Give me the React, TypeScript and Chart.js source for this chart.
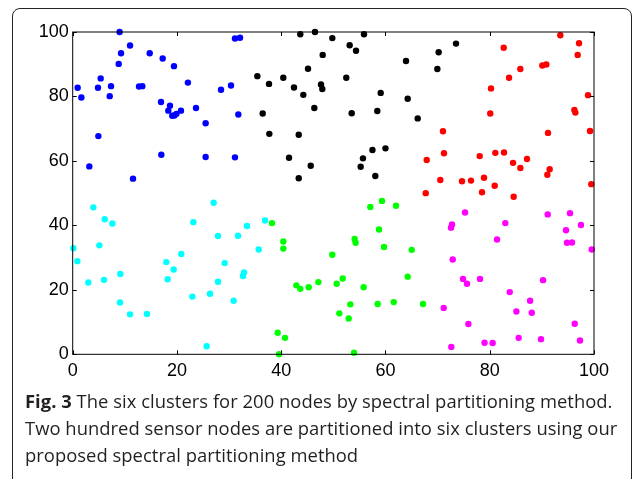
import React, { useEffect, useRef } from "react";
import { Chart, registerables } from "chart.js";

Chart.register(...registerables);

const xTicks = [0, 20, 40, 60, 80, 100];
const yTicks = [0, 20, 40, 60, 80, 100];

const blueX = [0.95,1.66,4.85,5.37,4.92,3.19,7.35,7.1,9.0,9.27,8.82,11.0,11.57,12.72,13.36,14.77,17.26,19.43,16.94,18.66,18.34,19.1,19.5,19.9,20.77,22.1,23.65,25.5,17.0,25.5,28.45,30.37,31.13,32.1,31.77,31.13];
const blueY = [82.7,79.7,82.7,85.6,67.7,58.3,83.2,80.1,100,93.4,90.1,95.8,54.5,83.1,83.2,93.4,91.8,89.4,78.3,77.1,75.6,74.0,74.1,74.6,75.6,84.3,76.4,71.7,61.9,61.2,82.1,83.4,98.0,98.2,74.4,61.1];

const blackX = [35.42,37.66,36.45,37.72,40.4,42.45,43.66,46.48,44.24,45.14,47.96,47.63,47.88,46.35,49.8,53.13,54.35,52.48,55.88,53.52,59.08,58.43,63.94,64.26,43.36,41.5,45.66,43.36,57.5,60.0,55.68,55.24,58.05,70.2,69.95,73.53,66.18];
const blackY = [86.3,83.9,74.7,68.4,85.8,82.8,99.3,100,80.5,88.6,92.9,83.7,82.3,76.4,98.1,95.9,94.2,85.8,99.3,74.8,81.1,75.5,91.0,79.3,68.1,61.0,58.5,54.6,63.4,63.9,60.8,58.2,55.3,93.7,88.5,96.4,73.2];

const redX = [82.68,93.54,97.13,96.87,85.87,83.7,90.09,90.85,80.24,80.1,98.86,96.24,96.43,71.03,91.18,99.24,67.91,71.22,78.07,81.07,82.74,84.47,87.15,85.87,91.5,91.05,70.52,74.68,76.41,78.9,80.95,99.48,67.72,78.52,84.59];
const redY = [95.1,99.0,96.5,92.9,88.5,85.8,89.6,89.9,82.5,74.7,80.4,75.8,75.0,69.2,68.7,69.3,60.3,62.4,61.5,62.5,62.6,59.4,60.6,57.8,57.4,55.7,54.1,53.7,53.9,54.8,52.3,52.8,50.0,50.3,48.9];

const magentaX = [75.26,72.76,72.57,82.99,81.4,91.12,95.4,97.5,94.63,94.82,95.78,99.56,72.9,74.87,75.64,78.13,90.22,83.84,87.74,85.11,88.06,71.17,75.9,96.3,72.63,79.0,80.56,85.55,89.83,97.31];
const magentaY = [44.0,40.3,39.3,40.7,35.6,43.4,43.8,40.1,38.5,34.6,34.7,32.5,29.4,23.4,21.9,23.4,23.0,19.3,16.6,13.3,12.9,14.4,9.4,9.5,2.3,3.6,3.5,5.1,4.7,4.3];

const greenX = [38.23,40.4,40.4,39.32,40.73,39.58,42.9,43.66,45.27,47.12,49.8,50.64,51.79,51.15,52.94,53.26,53.96,54.08,54.27,55.81,57.09,59.33,62.02,58.76,59.72,58.5,61.58,65.03,64.26,67.2];
const greenY = [40.7,35.0,32.8,6.7,5.1,0,21.4,20.3,20.8,22.4,30.9,21.9,23.5,12.7,11.1,15.5,0.5,35.8,34.6,20.8,45.7,47.6,46.1,38.7,33.3,15.6,16.2,32.4,24.1,15.6];

const cyanX = [0.12,0.89,3.96,6.14,7.61,5.11,3.0,6.0,9.14,9.07,11.0,14.25,17.96,18.22,19.37,20.84,23.14,27.04,27.87,29.15,27.87,22.95,26.34,25.7,30.88,31.71,33.44,36.89,35.68,32.86,32.67];
const cyanY = [32.9,28.9,45.6,41.9,40.6,33.8,22.3,23.1,24.9,16.1,12.4,12.5,28.6,23.3,26.3,31.1,41.0,47.0,36.7,28.3,22.5,17.9,18.8,2.5,16.6,36.8,39.8,41.5,32.5,25.4,24.3];

const clusters = [
  { name: "Cluster 1", xs: blueX, ys: blueY, color: "#0000ff" },
  { name: "Cluster 2", xs: blackX, ys: blackY, color: "#000000" },
  { name: "Cluster 3", xs: redX, ys: redY, color: "#ff0000" },
  { name: "Cluster 4", xs: magentaX, ys: magentaY, color: "#ff00ff" },
  { name: "Cluster 5", xs: greenX, ys: greenY, color: "#00ff00" },
  { name: "Cluster 6", xs: cyanX, ys: cyanY, color: "#00ffff" },
];

const boxPlugin = {
  id: "boxTicks",
  afterDraw(chart: any) {
    const { ctx, chartArea: a, scales } = chart;
    ctx.save();
    ctx.strokeStyle = "#000";
    ctx.lineWidth = 1;
    ctx.strokeRect(a.left, a.top, a.right - a.left, a.bottom - a.top);
    const len = 4;
    ctx.beginPath();
    xTicks.forEach((v) => {
      const p = Math.round(scales.x.getPixelForValue(v)) + 0.5;
      ctx.moveTo(p, a.bottom);
      ctx.lineTo(p, a.bottom - len);
      ctx.moveTo(p, a.top);
      ctx.lineTo(p, a.top + len);
    });
    yTicks.forEach((v) => {
      const p = Math.round(scales.y.getPixelForValue(v)) + 0.5;
      ctx.moveTo(a.left, p);
      ctx.lineTo(a.left + len, p);
      ctx.moveTo(a.right, p);
      ctx.lineTo(a.right - len, p);
    });
    ctx.stroke();
    ctx.restore();
  },
};

export default function App() {
  const ref = useRef<HTMLCanvasElement>(null);
  useEffect(() => {
    const chart = new Chart(ref.current!, {
      type: "scatter",
      data: {
        datasets: clusters.map((c) => ({
          label: c.name,
          data: c.xs.map((x, i) => ({ x, y: c.ys[i] })),
          backgroundColor: c.color,
          borderWidth: 0,
          pointRadius: 3.2,
          pointHoverRadius: 3.2,
          clip: false,
        })),
      },
      options: {
        animation: false,
        responsive: false,
        maintainAspectRatio: false,
        layout: { padding: { left: 0, top: 32, right: 41, bottom: 0 } },
        plugins: { legend: { display: false }, tooltip: { enabled: false } },
        scales: {
          x: {
            type: "linear",
            min: 0,
            max: 100,
            afterBuildTicks: (s: any) => { s.ticks = xTicks.map((v) => ({ value: v })); },
            afterFit: (s: any) => { s.height = 35.7; },
            grid: { display: false, drawTicks: false },
            border: { display: false },
            ticks: { color: "#000", padding: 6, font: { family: "Liberation Sans", size: 18 } },
          },
          y: {
            type: "linear",
            min: 0,
            max: 100,
            afterBuildTicks: (s: any) => { s.ticks = yTicks.map((v) => ({ value: v })); },
            afterFit: (s: any) => { s.width = 72.7; },
            grid: { display: false, drawTicks: false },
            border: { display: false },
            ticks: { color: "#000", padding: 4, font: { family: "Liberation Sans", size: 18 } },
          },
        },
      },
      plugins: [boxPlugin],
    });
    return () => chart.destroy();
  }, []);

  const cap: React.CSSProperties = {
    fontFamily: "'Open Sans', sans-serif",
    fontSize: 18.4,
    lineHeight: "26.8px",
    color: "#231f20",
    whiteSpace: "nowrap",
    letterSpacing: "0.03px",
  };

  return (
    <div style={{ position: "fixed", left: 0, top: 0, width: 635, height: 479, background: "#fff", overflow: "hidden" }}>
      <div style={{ position: "absolute", left: 12, top: 8, width: 620, height: 520, border: "1px solid #222", borderRadius: 8, boxSizing: "border-box" }} />
      <canvas ref={ref} width={635} height={390} style={{ position: "absolute", left: 0, top: 0, width: 635, height: 390 }} />
      <div style={{ position: "absolute", left: 25, top: 388, ...cap }}>
        <div><b>Fig. 3</b> The six clusters for 200 nodes by spectral partitioning method.</div>
        <div>Two hundred sensor nodes are partitioned into six clusters using our</div>
        <div>proposed spectral partitioning method</div>
      </div>
    </div>
  );
}
